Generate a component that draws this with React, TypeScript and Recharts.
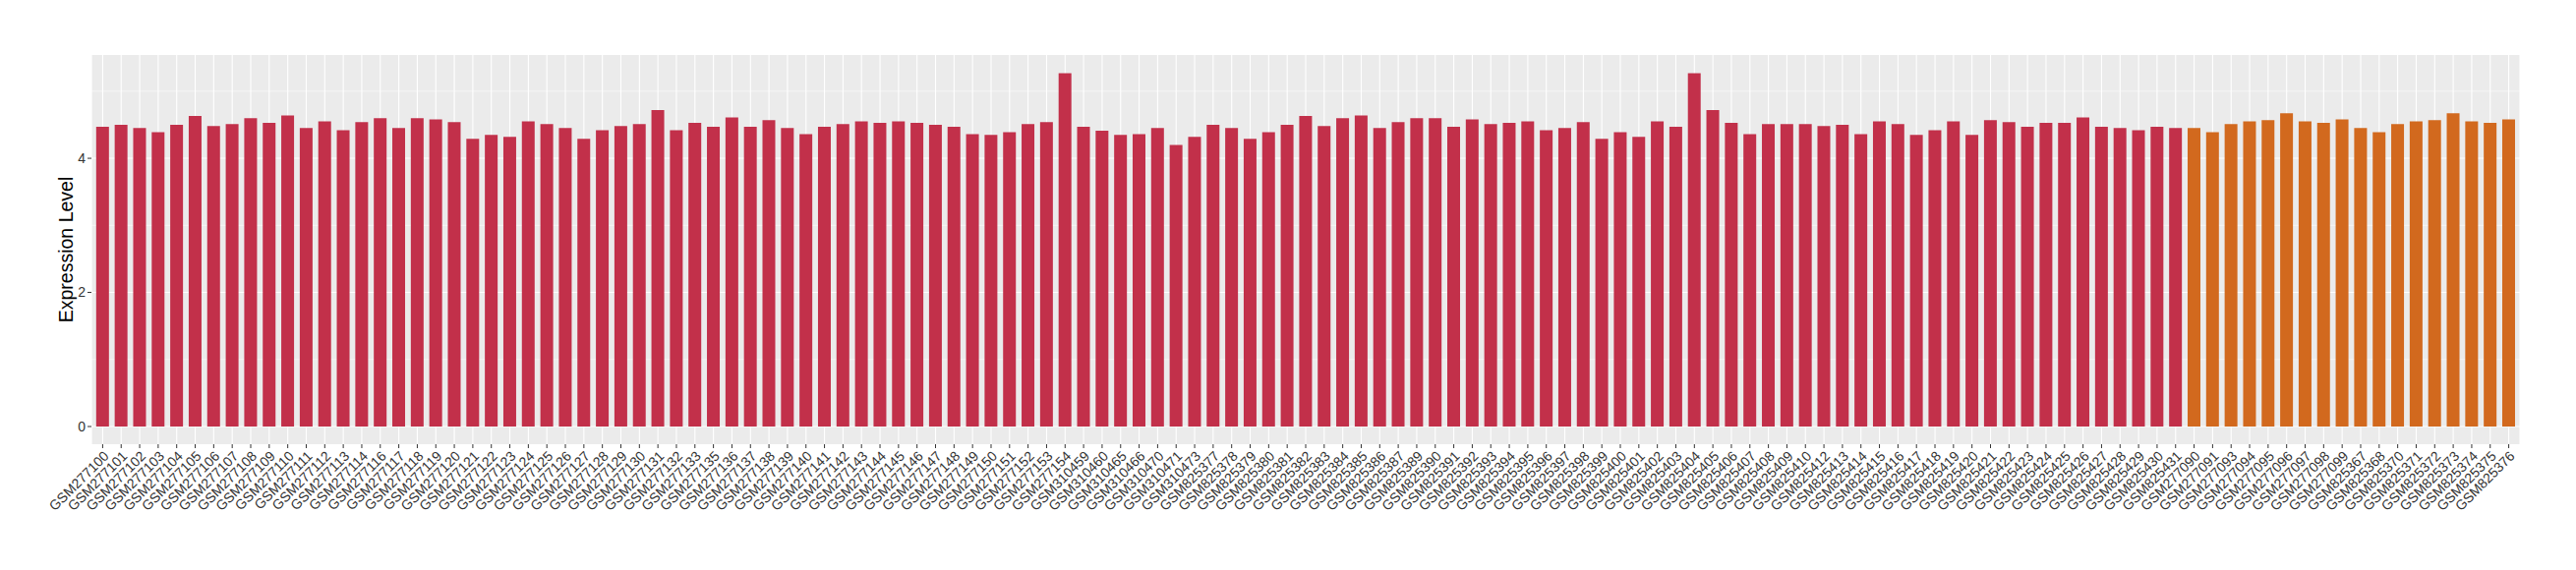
import { BarChart, Bar, XAxis, YAxis, CartesianGrid, Cell, Label } from "recharts";

// samples drawn in red
const redSamples = [
  "GSM277100", "GSM277101", "GSM277102", "GSM277103", "GSM277104", "GSM277105", "GSM277106",
  "GSM277107", "GSM277108", "GSM277109", "GSM277110", "GSM277111", "GSM277112", "GSM277113",
  "GSM277114", "GSM277116", "GSM277117", "GSM277118", "GSM277119", "GSM277120", "GSM277121",
  "GSM277122", "GSM277123", "GSM277124", "GSM277125", "GSM277126", "GSM277127", "GSM277128",
  "GSM277129", "GSM277130", "GSM277131", "GSM277132", "GSM277133", "GSM277135", "GSM277136",
  "GSM277137", "GSM277138", "GSM277139", "GSM277140", "GSM277141", "GSM277142", "GSM277143",
  "GSM277144", "GSM277145", "GSM277146", "GSM277147", "GSM277148", "GSM277149", "GSM277150",
  "GSM277151", "GSM277152", "GSM277153", "GSM277154", "GSM310459", "GSM310460", "GSM310465",
  "GSM310466", "GSM310470", "GSM310471", "GSM310473", "GSM825377", "GSM825378", "GSM825379",
  "GSM825380", "GSM825381", "GSM825382", "GSM825383", "GSM825384", "GSM825385", "GSM825386",
  "GSM825387", "GSM825389", "GSM825390", "GSM825391", "GSM825392", "GSM825393", "GSM825394",
  "GSM825395", "GSM825396", "GSM825397", "GSM825398", "GSM825399", "GSM825400", "GSM825401",
  "GSM825402", "GSM825403", "GSM825404", "GSM825405", "GSM825406", "GSM825407", "GSM825408",
  "GSM825409", "GSM825410", "GSM825412", "GSM825413", "GSM825414", "GSM825415", "GSM825416",
  "GSM825417", "GSM825418", "GSM825419", "GSM825420", "GSM825421", "GSM825422", "GSM825423",
  "GSM825424", "GSM825425", "GSM825426", "GSM825427", "GSM825428", "GSM825429", "GSM825430",
  "GSM825431",
];

const redValues = [
  4.47, 4.50, 4.45, 4.39, 4.50, 4.63, 4.48, 4.51, 4.60, 4.53, 4.64, 4.45, 4.55, 4.42, 4.54,
  4.60, 4.45, 4.60, 4.58, 4.54, 4.29, 4.35, 4.32, 4.55, 4.51, 4.45, 4.29, 4.42, 4.48, 4.51,
  4.72, 4.42, 4.53, 4.47, 4.61, 4.47, 4.57, 4.45, 4.36, 4.47, 4.51, 4.55, 4.53, 4.55, 4.53,
  4.50, 4.47, 4.36, 4.35, 4.39, 4.51, 4.54, 5.27, 4.47, 4.41, 4.35, 4.36, 4.45, 4.20, 4.32,
  4.50, 4.45, 4.29, 4.39, 4.50, 4.63, 4.48, 4.60, 4.64, 4.45, 4.54, 4.60, 4.60, 4.47, 4.58,
  4.51, 4.53, 4.55, 4.42, 4.45, 4.54, 4.29, 4.39, 4.32, 4.55, 4.47, 5.27, 4.72, 4.53, 4.36,
  4.51, 4.51, 4.51, 4.48, 4.50, 4.36, 4.55, 4.51, 4.35, 4.42, 4.55, 4.35, 4.57, 4.54, 4.47,
  4.53, 4.53, 4.61, 4.47, 4.45, 4.42, 4.47, 4.45,
];

// samples drawn in orange
const orangeSamples = [
  "GSM277090", "GSM277091", "GSM277093", "GSM277094", "GSM277095", "GSM277096", "GSM277097",
  "GSM277098", "GSM277099", "GSM825367", "GSM825368", "GSM825370", "GSM825371", "GSM825372",
  "GSM825373", "GSM825374", "GSM825375", "GSM825376",
];

const orangeValues = [
  4.45, 4.39, 4.51, 4.55, 4.57, 4.67, 4.55, 4.53, 4.58,
  4.45, 4.39, 4.51, 4.55, 4.57, 4.67, 4.55, 4.53, 4.58,
];

const yTicks = [0, 2, 4];
const yMinor = [1, 3, 5];

const RED = "#C2304A";
const ORANGE = "#D2691E";
const TEXT = "#333333";
const FONT = "'Liberation Sans', Arial, Helvetica, sans-serif";

const data = [
  ...redSamples.map((name, i) => ({ name, value: redValues[i], fill: RED })),
  ...orangeSamples.map((name, i) => ({ name, value: orangeValues[i], fill: ORANGE })),
];

const SampleTick = ({ x, y, payload }: any) => (
  <text
    x={x}
    y={y}
    dy="0.71em"
    transform={`rotate(-45, ${x}, ${y})`}
    textAnchor="end"
    fontSize={14}
    fontFamily={FONT}
    fill={TEXT}
  >
    {payload.value}
  </text>
);

// centred on the panel, like ggplot's axis title
const YTitle = () => {
  const cx = 67;
  const cy = 254;
  return (
    <text
      x={cx}
      y={cy}
      transform={`rotate(-90, ${cx}, ${cy})`}
      textAnchor="middle"
      dominantBaseline="central"
      fontSize={19.5}
      fontFamily={FONT}
      fill="#000000"
    >
      Expression Level
    </text>
  );
};

export default function App() {
  return (
    <div style={{ position: "absolute", left: 0, top: 0, fontFamily: FONT, background: "#fff" }}>
      <BarChart
        width={2620}
        height={580}
        data={data}
        margin={{ top: 56, right: 57, bottom: 0, left: 0 }}
        barCategoryGap="15%"
      >
        <CartesianGrid fill="#EBEBEB" stroke="#FFFFFF" strokeWidth={1.1} horizontalValues={yTicks} />
        <CartesianGrid vertical={false} stroke="#FFFFFF" strokeWidth={0.55} horizontalValues={yMinor} />
        <XAxis
          dataKey="name"
          interval={0}
          height={128}
          padding={{ left: 2, right: 2 }}
          axisLine={false}
          tickSize={4}
          tickLine={{ stroke: "#333333" }}
          tick={<SampleTick />}
        />
        <YAxis
          type="number"
          width={93}
          domain={[-0.264, 5.54]}
          ticks={yTicks}
          allowDataOverflow
          axisLine={false}
          tickSize={4}
          tickMargin={2}
          tickLine={{ stroke: "#333333" }}
          tick={{ fill: TEXT, fontSize: 14, fontFamily: FONT }}
        >
          <Label content={<YTitle />} />
        </YAxis>
        <Bar dataKey="value" isAnimationActive={false}>
          {data.map((d) => (
            <Cell key={d.name} fill={d.fill} />
          ))}
        </Bar>
      </BarChart>
    </div>
  );
}
